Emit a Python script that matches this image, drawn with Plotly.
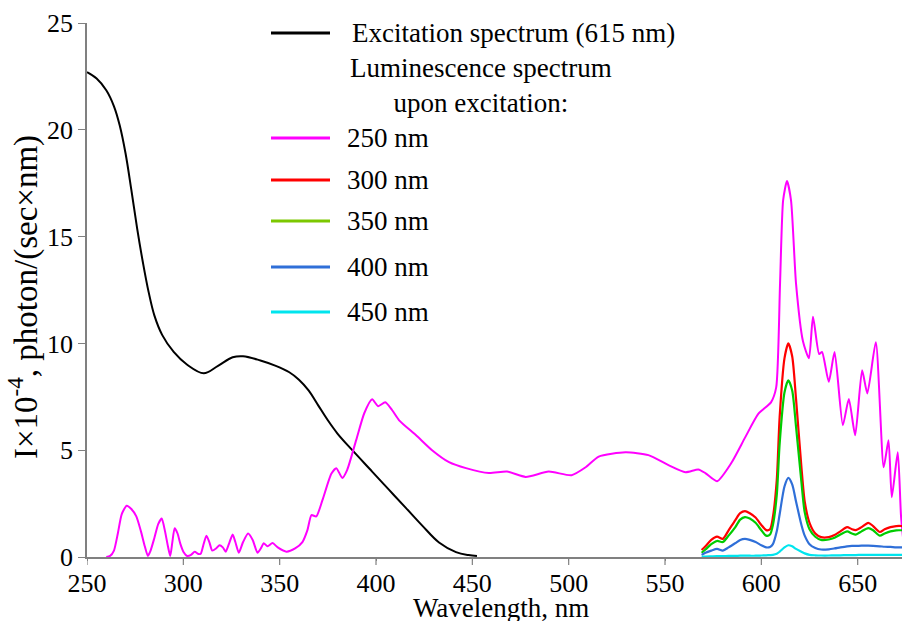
import plotly.graph_objects as go

# ---------------- data ----------------
ex_wl = [250, 255, 260, 264, 267, 270, 273, 276, 279, 282, 285, 289, 295, 302, 310.6, 318,
         325.6, 331, 340, 348, 355, 360, 365, 370, 375, 380, 387.7, 398, 406.8, 415.6, 424,
         432.7, 441.5, 448, 452.4]
ex_I = [22.7, 22.4, 21.85, 21.1, 20.2, 18.9, 17.2, 15.4, 13.8, 12.4, 11.3, 10.4, 9.6, 9.0,
        8.6, 8.95, 9.35, 9.4, 9.2, 8.95, 8.65, 8.3, 7.8, 7.1, 6.4, 5.78, 5.0, 4.0, 3.14,
        2.29, 1.47, 0.68, 0.23, 0.09, 0.05]

lum250_wl = [260, 262, 264, 266, 268, 270.6, 273, 275.6, 278, 280, 281.6, 283, 285, 287, 288.8,
             290.5, 292, 293.2, 294.3, 295.5, 297, 298.5, 300, 302, 304, 305.9, 307.5, 309,
             310.5, 312, 313.5, 315, 317, 318.8, 320.5, 322, 324, 325.6, 327, 328.8, 331,
             333.6, 336, 338.5, 340.5, 341.7, 343.7, 346.3, 349, 353.5, 358, 361.8, 364.4,
             366.5, 369, 372.2, 376.8, 379.4, 382.5, 385, 389.7, 393.9, 398, 401.1, 404.8,
             408.4, 412, 420.8, 429.1, 437.9, 446.7, 458.6, 468, 477.7, 489.6, 501.5, 508.8,
             515.6, 529.5, 541.4, 551.8, 560.6, 567.3, 570.9, 577, 584.4, 591.6, 598.4, 605,
             607.7, 609.7, 611.3, 613.3, 615.4, 618, 621.6, 624.7, 626.8, 630, 631.5, 635,
             638, 642.3, 645.4, 648.7, 652.3, 655, 659.4, 663.5, 666, 667.7, 670.8, 672.5, 674]
lum250_I = [0, 0.05, 0.3, 1.1, 2.0, 2.4, 2.25, 1.9, 1.2, 0.5, 0.05, 0.3, 0.9, 1.55, 1.8,
            1.2, 0.5, 0.05, 0.7, 1.35, 1.1, 0.6, 0.25, 0.05, 0.1, 0.25, 0.15, 0.15,
            0.6, 1.0, 0.7, 0.3, 0.4, 0.55, 0.45, 0.25, 0.7, 1.05, 0.7, 0.2, 0.7,
            1.1, 0.8, 0.2, 0.45, 0.65, 0.5, 0.65, 0.45, 0.25, 0.4, 0.7, 1.26,
            1.96, 1.9, 2.66, 3.9, 4.16, 3.7, 4.07, 5.47, 6.73, 7.38, 7.06, 7.24,
            6.87, 6.4, 5.7, 5.0, 4.44, 4.16, 3.93, 4.0, 3.75, 4.0, 3.83, 4.2,
            4.7, 4.9, 4.77, 4.3, 3.97, 4.1, 3.93, 3.55, 4.4, 5.6, 6.7, 7.24,
            7.94, 12.8, 16.7, 17.6, 16.7, 12.8, 10.1, 9.3, 11.25, 9.5, 9.6, 8.2,
            9.6, 6.17, 7.4, 5.7, 8.74, 7.66, 10.05, 4.2, 5.47, 2.8, 4.9, 1.9, 0.5]

lum_wl = [569, 571, 574, 577, 580, 583, 586.5, 589, 591.5, 594, 597, 600, 602.5, 604.5, 606,
          608, 609.5, 612, 614, 616, 618, 620.8, 622.5, 625, 628, 631, 635, 638, 641, 644.5,
          647, 649, 652, 655.5, 658, 661.5, 664, 667, 670, 674]
lum300_I = [0.33, 0.5, 0.8, 0.95, 0.85, 1.25, 1.73, 2.05, 2.15, 2.05, 1.85, 1.5, 1.26, 1.3, 1.87,
            3.6, 6.55, 9.3, 10.0, 9.4, 7.4, 4.2, 2.6, 1.6, 1.1, 0.93, 0.93, 1.03, 1.2, 1.4,
            1.3, 1.26, 1.4, 1.6, 1.45, 1.17, 1.3, 1.4, 1.45, 1.45]
lum350_I = [0.2, 0.35, 0.6, 0.75, 0.7, 1.0, 1.4, 1.75, 1.87, 1.8, 1.6, 1.25, 1.0, 1.05, 1.5,
            2.9, 5.3, 7.7, 8.27, 7.8, 6.1, 3.5, 2.1, 1.3, 0.95, 0.8, 0.82, 0.9, 1.05, 1.2,
            1.1, 1.05, 1.2, 1.35, 1.25, 1.0, 1.1, 1.2, 1.25, 1.25]
lum400_I = [0.1, 0.2, 0.3, 0.38, 0.3, 0.45, 0.65, 0.8, 0.85, 0.8, 0.7, 0.55, 0.45, 0.47, 0.6,
            1.2, 2.0, 3.3, 3.7, 3.4, 2.6, 1.5, 1.0, 0.6, 0.42, 0.35, 0.36, 0.4, 0.45, 0.5,
            0.52, 0.52, 0.53, 0.53, 0.52, 0.5, 0.48, 0.47, 0.45, 0.45]
lum450_I = [0.02, 0.02, 0.03, 0.04, 0.04, 0.05, 0.05, 0.06, 0.06, 0.06, 0.06, 0.07, 0.08, 0.09, 0.1,
            0.15, 0.25, 0.45, 0.55, 0.5, 0.38, 0.25, 0.17, 0.1, 0.08, 0.07, 0.07, 0.08, 0.08, 0.09,
            0.09, 0.09, 0.1, 0.1, 0.1, 0.1, 0.1, 0.1, 0.1, 0.1]

x_ticks = [250, 300, 350, 400, 450, 500, 550, 600, 650]
y_ticks = [0, 5, 10, 15, 20, 25]

ex_label = "Excitation spectrum (615 nm)"
lum_header = "Luminescence spectrum<br>upon excitation:"
lum_labels = ["250 nm", "300 nm", "350 nm", "400 nm", "450 nm"]
x_title = "Wavelength, nm"
y_title = "I×10<sup>-4</sup>, photon/(sec×nm)"

# ---------------- styling ----------------
FONT = "Times New Roman, Liberation Serif, DejaVu Serif, serif"
W, H = 902, 621
ML, MR, MT, MB = 87, 0, 23, 64
PW, PH = W - ML - MR, H - MT - MB
AXIS_GRAY = "#808080"

def px(xp):
    return (xp - ML) / PW

def py(yp):
    return (H - MB - yp) / PH

line_colors = ["#ff00ff", "#ff0000", "#00cc00", "#2f6fd8", "#00e5ee"]
legend_colors = ["#ff00ff", "#ff0000", "#7cc800", "#2f6fd8", "#00e5ee"]

fig = go.Figure()

fig.add_trace(go.Scatter(x=ex_wl, y=ex_I, mode="lines", name=ex_label,
                         line=dict(color="black", width=2, shape="spline", smoothing=1.0)))
fig.add_trace(go.Scatter(x=lum250_wl, y=lum250_I, mode="lines", name=lum_labels[0],
                         line=dict(color=line_colors[0], width=2, shape="spline", smoothing=0.6)))
for lab, ys, c in zip(lum_labels[1:], [lum300_I, lum350_I, lum400_I, lum450_I], line_colors[1:]):
    fig.add_trace(go.Scatter(x=lum_wl, y=ys, mode="lines", name=lab,
                             line=dict(color=c, width=2.2, shape="spline", smoothing=0.7)))

shapes = []
annotations = []

# longer x tick marks (labels stay close to the axis as in the reference)
for xv in x_ticks:
    shapes.append(dict(type="line", xref="x", yref="paper", x0=xv, x1=xv,
                       y0=0, y1=-8 / PH, line=dict(color=AXIS_GRAY, width=1.2)))

def leg_line(y, color):
    shapes.append(dict(type="line", xref="paper", yref="paper",
                       x0=px(271), x1=px(330), y0=py(y), y1=py(y),
                       line=dict(color=color, width=3)))

LEG_SIZE = 27
leg_line(33, "black")
annotations.append(dict(xref="paper", yref="paper", x=px(350), y=py(33), xanchor="left",
                        yanchor="middle", text=ex_label, showarrow=False,
                        font=dict(family=FONT, size=LEG_SIZE, color="black")))
annotations.append(dict(xref="paper", yref="paper", x=px(481), y=py(86), xanchor="center",
                        yanchor="middle", text=lum_header, showarrow=False, align="center",
                        font=dict(family=FONT, size=LEG_SIZE, color="black")))
leg_ys = [138, 180, 221, 267, 312]
for yv, c, lab in zip(leg_ys, legend_colors, lum_labels):
    leg_line(yv, c)
    annotations.append(dict(xref="paper", yref="paper", x=px(345), y=py(yv), xanchor="left",
                            yanchor="middle", text=lab, showarrow=False,
                            font=dict(family=FONT, size=LEG_SIZE, color="black")))

# axis titles placed explicitly
annotations.append(dict(xref="paper", yref="paper", x=px(501), y=py(608), xanchor="center",
                        yanchor="middle", text=x_title, showarrow=False,
                        font=dict(family=FONT, size=27, color="black")))
annotations.append(dict(xref="paper", yref="paper", x=px(24), y=py(297), xanchor="center",
                        yanchor="middle", text=y_title, showarrow=False, textangle=-90,
                        font=dict(family=FONT, size=33, color="black")))

fig.update_layout(
    width=W, height=H,
    margin=dict(l=ML, r=MR, t=MT, b=MB),
    paper_bgcolor="white", plot_bgcolor="white",
    showlegend=False,
    font=dict(family=FONT, size=25, color="black"),
    shapes=shapes, annotations=annotations,
)
fig.update_xaxes(range=[250, 673], tickvals=x_ticks, ticks="outside", ticklen=2,
                 tickcolor=AXIS_GRAY, showline=True, linecolor=AXIS_GRAY, linewidth=1.5,
                 showgrid=False, zeroline=False, tickfont=dict(family=FONT, size=26))
fig.update_yaxes(range=[0, 25], tickvals=y_ticks, ticks="outside", ticklen=7,
                 tickcolor=AXIS_GRAY, showline=True, linecolor=AXIS_GRAY, linewidth=1.5,
                 showgrid=False, zeroline=False, tickfont=dict(family=FONT, size=26))

fig.write_html("out.html", config={"displayModeBar": False},
               post_script="document.body.style.margin='0';")
